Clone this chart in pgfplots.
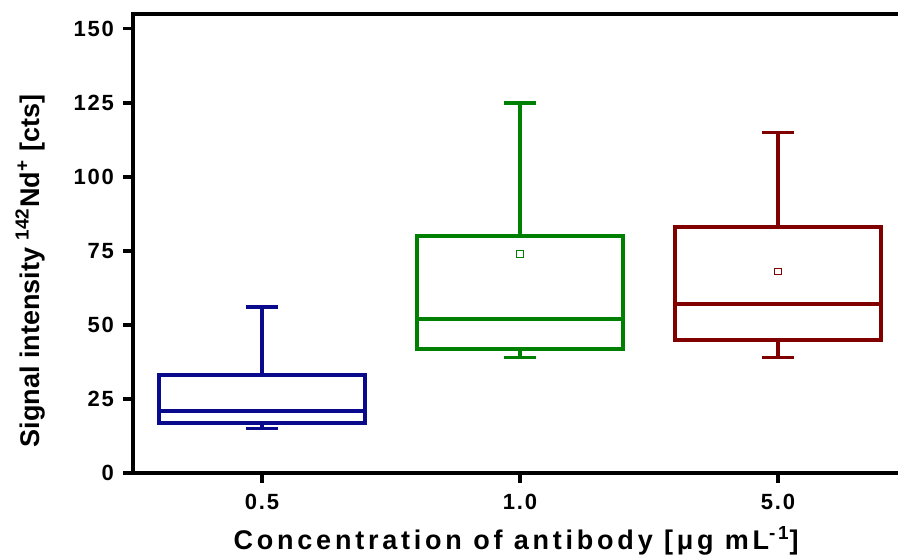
\documentclass[border=0pt]{standalone}
\usepackage{fontspec}
\setmainfont{Liberation Sans}
\usepackage{pgfplots}
\pgfplotsset{compat=1.18}
\definecolor{cblue}{RGB}{10,10,140}
\definecolor{cgreen}{RGB}{0,128,0}
\definecolor{cred}{RGB}{128,0,0}
\pgfplotsset{
  boxl/.style={solid, line width=1.9pt, mark=none, line join=miter, line cap=rect, unbounded coords=jump},
  meanm/.style={only marks, mark=square, mark size=1.6pt, line width=0.5pt},
}
\begin{document}
\begin{tikzpicture}
\begin{axis}[
  name=ax, at={(0,0)}, anchor=south west,
  scale only axis, width=387pt, height=229.5pt,
  xmin=0.5, xmax=3.5, ymin=0, ymax=155,
  xtick={1,2,3}, xticklabels={0.5,1.0,5.0},
  ytick={0,25,...,150},
  tick align=outside, xtick pos=bottom, ytick pos=left,
  axis line style={line width=1.9pt},
  major tick length=5pt,
  every tick/.style={black, line width=1.7pt},
  ticklabel style={font=\bfseries\addfontfeature{LetterSpace=8}\fontsize{11}{12}\selectfont},
  /pgf/number format/assume math mode=true,
  xticklabel style={yshift=-2pt},
  yticklabel style={xshift=-1pt},
  every axis y label/.style={at={(axis description cs:-0.133,0.44)}, rotate=90, anchor=center},
  every axis x label/.style={at={(axis description cs:0.495,0)}, anchor=center, yshift=-34pt},
  ylabel={\bfseries\fontsize{13.5}{14}\selectfont Signal intensity \textsuperscript{142}Nd\textsuperscript{+} [cts]},
  xlabel={\bfseries\addfontfeature{LetterSpace=14}\fontsize{13.5}{14}\selectfont Concentration of antibody [μg mL\textsuperscript{-1}]},
]
% 0.5: whiskers 15/56, quartiles 17/33, median 21
\addplot[boxl, cblue] coordinates {
 (0.6,17) (1.4,17) (1.4,33) (0.6,33) (0.6,17) (nan,nan)
 (0.6,21) (1.4,21) (nan,nan)
 (1,33) (1,56) (nan,nan) (0.945,56) (1.055,56) (nan,nan)
 (1,17) (1,15) (nan,nan) (0.945,15) (1.055,15)};
% 1.0: whiskers 39/125, quartiles 42/80, median 52, mean 74
\addplot[boxl, cgreen] coordinates {
 (1.6,42) (2.4,42) (2.4,80) (1.6,80) (1.6,42) (nan,nan)
 (1.6,52) (2.4,52) (nan,nan)
 (2,80) (2,125) (nan,nan) (1.945,125) (2.055,125) (nan,nan)
 (2,42) (2,39) (nan,nan) (1.945,39) (2.055,39)};
\addplot[meanm, cgreen] coordinates {(2,74)};
% 5.0: whiskers 39/115, quartiles 45/83, median 57, mean 68
\addplot[boxl, cred] coordinates {
 (2.6,45) (3.4,45) (3.4,83) (2.6,83) (2.6,45) (nan,nan)
 (2.6,57) (3.4,57) (nan,nan)
 (3,83) (3,115) (nan,nan) (2.945,115) (3.055,115) (nan,nan)
 (3,45) (3,39) (nan,nan) (2.945,39) (3.055,39)};
\addplot[meanm, cred] coordinates {(3,68)};
\end{axis}
\pgfresetboundingbox
\path[use as bounding box] (-66.5pt,-43.5pt) rectangle (382.5pt,236.5pt);
\end{tikzpicture}
\end{document}
